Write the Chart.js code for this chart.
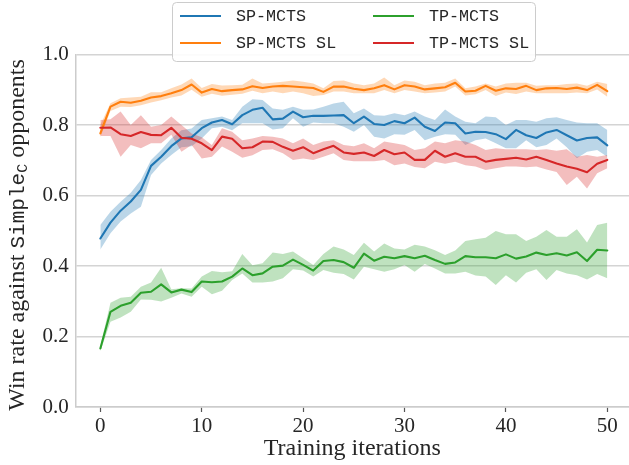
<!DOCTYPE html>
<html><head><meta charset="utf-8">
<script src="https://cdn.jsdelivr.net/npm/chart.js@4.4.0/dist/chart.umd.min.js"></script>
<style>html,body{margin:0;padding:0;background:#fff;overflow:hidden}canvas{display:block}</style>
</head><body>
<canvas id="c" width="629" height="465"></canvas>
<script>
const iterations = [0,1,2,3,4,5,6,7,8,9,10,11,12,13,14,15,16,17,18,19,20,21,22,23,24,25,26,27,28,29,30,31,32,33,34,35,36,37,38,39,40,41,42,43,44,45,46,47,48,49,50];
const xTickValues = [0,10,20,30,40,50];
const yTickValues = [0,0.2,0.4,0.6,0.8,1.0];

const spMcts = [.478,.523,.557,.583,.616,.684,.710,.740,.762,.765, .791,.807,.814,.802,.828,.843,.849,.816,.818,.838, .822,.826,.826,.827,.828,.805,.824,.803,.800,.811, .805,.821,.795,.783,.807,.805,.776,.781,.780,.774, .760,.786,.771,.763,.779,.786,.771,.756,.763,.765, .742];
const spMctsHigh = [.516,.554,.582,.608,.644,.701,.729,.762,.785,.790, .814,.819,.824,.814,.852,.873,.871,.847,.843,.852, .843,.844,.852,.861,.866,.833,.847,.828,.826,.833, .828,.838,.824,.814,.844,.824,.809,.805,.824,.822, .800,.814,.814,.809,.819,.822,.814,.807,.805,.805, .786];
const spMctsLow = [.447,.493,.526,.549,.568,.658,.691,.715,.737,.740, .762,.791,.795,.785,.805,.805,.805,.787,.791,.819, .795,.807,.805,.805,.795,.781,.800,.767,.762,.774, .772,.786,.757,.767,.774,.772,.743,.757,.762,.748, .734,.734,.757,.737,.743,.762,.737,.706,.724,.729, .710];

const spMctsSL = [.776,.852,.866,.863,.869,.878,.882,.890,.899,.915, .892,.902,.896,.899,.901,.910,.905,.909,.911,.909, .907,.905,.894,.909,.909,.903,.899,.904,.913,.901, .913,.909,.901,.904,.907,.920,.895,.897,.911,.897, .904,.902,.911,.899,.904,.905,.902,.906,.899,.914, .896];
const spMctsSLHigh = [.800,.862,.876,.878,.880,.893,.893,.904,.915,.932, .905,.916,.912,.913,.914,.932,.918,.920,.923,.926, .923,.918,.904,.925,.926,.918,.913,.918,.935,.913, .926,.923,.913,.918,.920,.932,.904,.909,.918,.909, .918,.920,.920,.911,.913,.913,.916,.918,.911,.923, .916];
const spMctsSLLow = [.765,.840,.852,.851,.856,.864,.870,.878,.884,.900, .880,.889,.883,.886,.889,.897,.890,.895,.890,.895, .890,.882,.885,.895,.895,.890,.890,.890,.899,.890, .899,.895,.890,.892,.895,.909,.884,.887,.899,.882, .892,.888,.895,.890,.890,.890,.890,.892,.890,.901, .880];

const tpMcts = [.166,.270,.287,.296,.324,.327,.348,.325,.333,.326, .356,.354,.356,.370,.393,.374,.379,.398,.401,.418, .403,.387,.414,.417,.411,.395,.435,.415,.426,.422, .428,.422,.429,.417,.406,.410,.428,.425,.425,.422, .433,.421,.427,.438,.431,.436,.430,.439,.414,.446, .444];
const tpMctsHigh = [.174,.296,.310,.313,.341,.353,.395,.334,.337,.336, .370,.386,.382,.385,.434,.402,.408,.438,.434,.441, .422,.403,.434,.455,.447,.431,.466,.441,.464,.450, .447,.460,.455,.445,.431,.444,.471,.476,.480,.499, .490,.490,.471,.483,.502,.483,.483,.504,.467,.516, .523];
const tpMctsLow = [.158,.242,.254,.270,.305,.304,.299,.310,.322,.313, .341,.320,.330,.360,.379,.353,.353,.356,.365,.391, .387,.370,.389,.381,.377,.362,.398,.391,.384,.391, .403,.384,.406,.393,.379,.379,.384,.373,.370,.346, .374,.353,.381,.391,.360,.389,.379,.374,.362,.377, .365];

const tpMctsSL = [.792,.793,.774,.769,.780,.772,.771,.792,.764,.761, .748,.729,.767,.761,.734,.737,.753,.752,.738,.727, .737,.720,.731,.741,.722,.718,.722,.712,.729,.717, .722,.701,.701,.727,.710,.720,.710,.710,.696,.701, .704,.707,.702,.710,.701,.691,.682,.676,.666,.690, .701];
const tpMctsSLHigh = [.814,.816,.838,.800,.828,.795,.800,.824,.800,.776, .765,.743,.791,.781,.757,.762,.769,.767,.762,.748, .762,.743,.753,.757,.743,.740,.748,.734,.753,.748, .743,.729,.734,.753,.748,.757,.753,.743,.729,.734, .731,.731,.731,.729,.731,.727,.731,.710,.715,.710, .715];
const tpMctsSLLow = [.769,.769,.710,.743,.734,.748,.748,.772,.724,.743, .705,.710,.739,.724,.707,.714,.729,.731,.720,.701, .705,.701,.710,.720,.701,.697,.697,.697,.701,.686, .691,.681,.677,.696,.690,.696,.686,.682,.672,.677, .682,.682,.680,.682,.674,.667,.630,.653,.620,.663, .677];

const seriesNames = ['SP-MCTS','SP-MCTS SL','TP-MCTS','TP-MCTS SL'];
const seriesColors = ['#1f77b4','#ff7f0e','#2ca02c','#d62728'];
const bandColors = ['rgba(31,119,180,0.3)','rgba(255,127,14,0.3)','rgba(44,160,44,0.3)','rgba(214,39,40,0.3)'];

const series = [
  {mean: spMcts, low: spMctsLow, high: spMctsHigh},
  {mean: spMctsSL, low: spMctsSLLow, high: spMctsSLHigh},
  {mean: tpMcts, low: tpMctsLow, high: tpMctsHigh},
  {mean: tpMctsSL, low: tpMctsSLLow, high: tpMctsSLHigh}
];

const datasets = [];
series.forEach((s, k) => {
  const lowIndex = datasets.length;
  datasets.push({label: seriesNames[k] + ' low', data: s.low, borderWidth: 0, borderColor: 'rgba(0,0,0,0)',
    pointRadius: 0, fill: false, order: 20 - k, tension: 0});
  datasets.push({label: seriesNames[k] + ' band', data: s.high, borderWidth: 0, borderColor: 'rgba(0,0,0,0)',
    pointRadius: 0, fill: lowIndex, backgroundColor: bandColors[k], order: 10 - k, tension: 0});
});
series.forEach((s, k) => {
  datasets.push({label: seriesNames[k], data: s.mean, borderColor: seriesColors[k], borderWidth: 2.1,
    pointRadius: 0, fill: false, order: 4 - k, tension: 0, borderJoinStyle: 'round', borderCapStyle: 'round'});
});

const textColor = '#262626';

const yTitlePlugin = {
  id: 'yTitle',
  afterDraw(chart) {
    const ctx = chart.ctx;
    const parts = [
      {t: 'Win rate against ', f: '24px "Liberation Serif"', dy: 0},
      {t: 'Simple', f: '21px "Liberation Mono"', dy: 0},
      {t: 'C', f: '15px "Liberation Mono"', dy: 3},
      {t: ' opponents', f: '24px "Liberation Serif"', dy: 0}
    ];
    let total = 0;
    parts.forEach(p => { ctx.font = p.f; p.w = ctx.measureText(p.t).width; total += p.w; });
    ctx.save();
    ctx.translate(24, 235);
    ctx.rotate(-Math.PI / 2);
    ctx.fillStyle = textColor;
    ctx.textBaseline = 'alphabetic';
    let x = -total / 2;
    parts.forEach(p => { ctx.font = p.f; ctx.fillText(p.t, x, p.dy); x += p.w; });
    ctx.restore();
  }
};

const legendPlugin = {
  id: 'boxLegend',
  afterDraw(chart) {
    const ctx = chart.ctx;
    ctx.save();
    const bx = 172.5, by = 2.5, bw = 363, bh = 59, r = 4;
    ctx.beginPath();
    ctx.moveTo(bx + r, by);
    ctx.arcTo(bx + bw, by, bx + bw, by + bh, r);
    ctx.arcTo(bx + bw, by + bh, bx, by + bh, r);
    ctx.arcTo(bx, by + bh, bx, by, r);
    ctx.arcTo(bx, by, bx + bw, by, r);
    ctx.closePath();
    ctx.fillStyle = 'rgba(255,255,255,0.9)';
    ctx.fill();
    ctx.strokeStyle = '#cccccc';
    ctx.lineWidth = 1;
    ctx.stroke();
    const cols = [{lx: 180, tx: 236}, {lx: 373, tx: 429}];
    const rows = [16, 43];
    const order = [[0, 0, 0], [1, 0, 1], [2, 1, 0], [3, 1, 1]];
    ctx.font = '16.7px "Liberation Mono"';
    ctx.textBaseline = 'middle';
    order.forEach(([k, c, rr]) => {
      const y = rows[rr];
      ctx.strokeStyle = seriesColors[k];
      ctx.lineWidth = 2.1;
      ctx.beginPath();
      ctx.moveTo(cols[c].lx, y);
      ctx.lineTo(cols[c].lx + 41, y);
      ctx.stroke();
      ctx.fillStyle = textColor;
      ctx.fillText(seriesNames[k], cols[c].tx, y + 1);
    });
    ctx.restore();
  }
};

new Chart(document.getElementById('c'), {
  type: 'line',
  data: {labels: iterations, datasets: datasets},
  options: {
    responsive: false,
    animation: false,
    events: [],
    layout: {padding: {top: 54.5, left: 0, right: 0, bottom: 0}},
    plugins: {legend: {display: false}, tooltip: {enabled: false}},
    scales: {
      x: {
        type: 'linear',
        min: -2.43, max: 52.14,
        afterFit(scale) { scale.height = 58; },
        afterBuildTicks(scale) { scale.ticks = xTickValues.map(v => ({value: v})); },
        grid: {drawOnChartArea: false, drawTicks: true, tickLength: 5, tickColor: '#555555', tickWidth: 1.2},
        border: {display: true, color: '#cccccc', width: 1.5},
        ticks: {padding: 1.5, maxRotation: 0, color: textColor,
          font: {family: '"Liberation Serif"', size: 21},
          callback: v => String(v)},
        title: {display: true, text: 'Training iterations', color: textColor,
          font: {family: '"Liberation Serif"', size: 24, lineHeight: 1.2},
          padding: {top: 0, bottom: 2}}
      },
      y: {
        type: 'linear',
        min: 0, max: 1.0,
        afterFit(scale) { scale.width = 75.7; },
        afterBuildTicks(scale) { scale.ticks = yTickValues.map(v => ({value: v})); },
        grid: {color: '#d4d4d4', lineWidth: 1.4, drawTicks: false},
        border: {display: true, color: '#cccccc', width: 1.5},
        ticks: {padding: 7, color: textColor,
          font: {family: '"Liberation Serif"', size: 21},
          callback: v => Number(v).toFixed(1)}
      }
    }
  },
  plugins: [yTitlePlugin, legendPlugin]
});
</script>
</body></html>
